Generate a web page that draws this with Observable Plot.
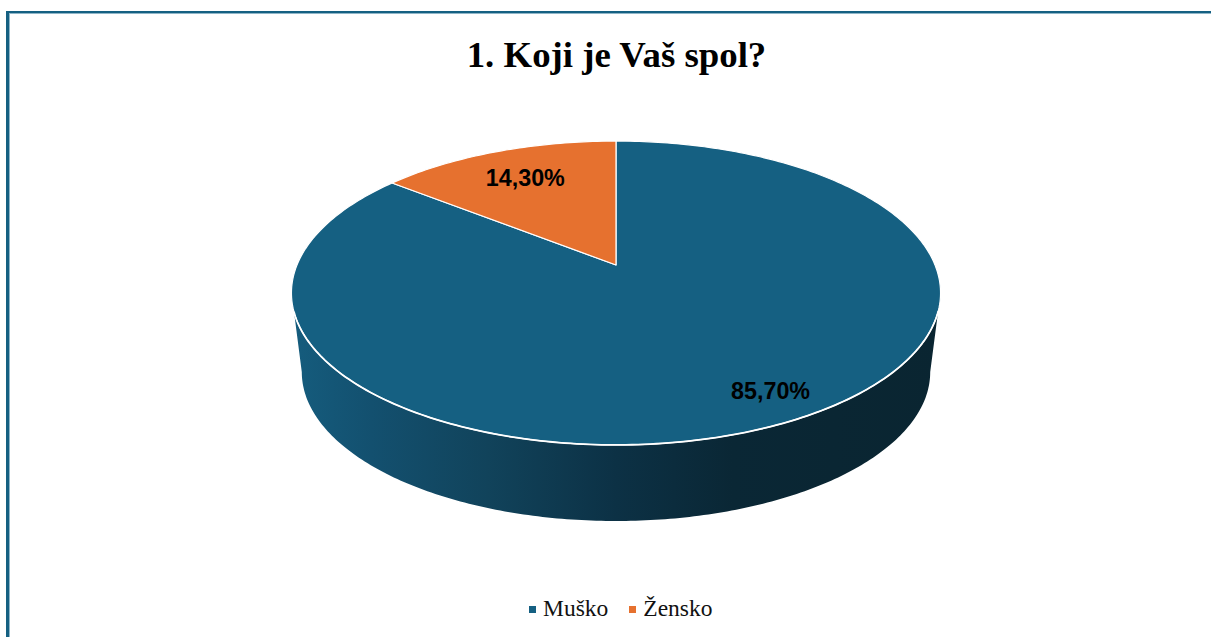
<!DOCTYPE html>
<html>
<head>
<meta charset="utf-8">
<script src="https://cdn.jsdelivr.net/npm/d3@7"></script>
<script src="https://cdn.jsdelivr.net/npm/@observablehq/plot@0.6"></script>
<style>
html,body{margin:0;padding:0;background:#fff;width:1211px;height:637px;overflow:hidden}
#frame{position:absolute;left:6px;top:11px;right:0;bottom:0;border-left:3px solid #156082;border-top:2px solid #156082;box-shadow:inset 1px 1px 0 #8fb6c8}
#title{position:absolute;left:0;width:1233px;top:32px;text-align:center;font:bold 36.8px/46px "Liberation Serif",serif;color:#000}
#chart{position:absolute;left:0;top:100px}
#legend{position:absolute;left:529px;top:594px;height:28px;display:flex;align-items:center;font:23.5px/28px "Liberation Serif",serif;color:#111}
#legend .k{width:7px;height:7px;margin-right:7px;margin-top:2px}
#legend .i{display:flex;align-items:center;margin-right:21px}
</style>
</head>
<body>
<div id="frame"></div>
<div id="title">1. Koji je Vaš spol?</div>
<div id="chart"></div>
<div id="legend"></div>
<script>
const categories = ["Muško", "Žensko"];
const shares = [85.7, 14.3];
const labels = ["85,70%", "14,30%"];
const colors = ["#156082", "#E6712F"];

// Perspective tilt of the disc, outline of its floor, and where each label sits
const tilt = 0.1842, floorX = 0.985, floorY = 1.015, floorDrop = 0.729;
const labelSpots = [[0.417, -0.741], [-0.321, 0.666]];

const project = (u, v) => ({x: u / (1 + tilt * v), y: v / (1 + tilt * v)});
const floor = (u, v) => ({x: floorX * u, y: floorY * v - floorDrop});
const rim = (frac) => {
  const a = 2 * Math.PI * frac;
  return [Math.sin(a), Math.cos(a)];
};

// Slices, clockwise from twelve o'clock
const total = d3.sum(shares);
let start = 0;
const slicePoints = categories.flatMap((name, i) => {
  const end = start + shares[i] / total;
  const n = Math.ceil((end - start) * 360);
  const pts = [{name, ...project(0, 0)}];
  for (let j = 0; j <= n; j++) {
    const [u, v] = rim(start + (end - start) * j / n);
    pts.push({name, ...project(u, v)});
  }
  start = end;
  return pts;
});

// Front wall of the disc: from the rim down to the floor outline and back up
const floorFracs = d3.range(0.25, 0.7501, 0.0025);
const edgeFracs = d3.range(0.2985, 0.7016, 0.0025);
const frontEdge = edgeFracs.map(f => project(...rim(f)));
const wallPoints = [
  ...floorFracs.map(f => floor(...rim(f))),
  ...frontEdge.slice().reverse()
];

const cx = 615.5, apexY = 164.5, halfW = 319, halfH = 146.8;

const defs = () => {
  const d = d3.create("svg:defs");
  const g = d.append("linearGradient").attr("id", "wall");
  [[0, "#155c7d"], [0.12, "#13506f"], [0.3, "#11435b"], [0.5, "#0c3145"], [0.68, "#0a2735"], [1, "#0a2531"]]
    .forEach(([o, c]) => g.append("stop").attr("offset", o).attr("stop-color", c));
  return d.node();
};

const chart = Plot.plot({
  width: 1211,
  height: 440,
  margin: 0,
  style: {background: "transparent", overflow: "visible"},
  x: {domain: [-1, 1], range: [cx - halfW, cx + halfW], axis: null},
  y: {domain: [1, -1], range: [apexY - halfH, apexY + halfH], axis: null},
  color: {domain: categories, range: colors},
  marks: [
    defs,
    Plot.line(wallPoints, {x: "x", y: "y", fill: "url(#wall)", stroke: "none", curve: "linear-closed"}),
    Plot.line(slicePoints, {x: "x", y: "y", z: "name", fill: "name", stroke: "#fff", strokeWidth: 1.2, curve: "linear-closed"}),
    Plot.line(frontEdge, {x: "x", y: "y", stroke: "#fff", strokeWidth: 1.8}),
    Plot.text(labels, {
      x: (d, i) => project(...labelSpots[i]).x,
      y: (d, i) => project(...labelSpots[i]).y,
      text: d => d,
      dx: 0.5,
      dy: 1,
      fontFamily: "Liberation Sans",
      fontWeight: "bold",
      fontSize: 23.3,
      fill: "#000"
    })
  ]
});
document.getElementById("chart").append(chart);

const legend = document.getElementById("legend");
categories.forEach((name, i) => {
  const item = document.createElement("div");
  item.className = "i";
  const key = document.createElement("div");
  key.className = "k";
  key.style.background = colors[i];
  item.append(key, document.createTextNode(name));
  legend.append(item);
});
</script>
</body>
</html>
